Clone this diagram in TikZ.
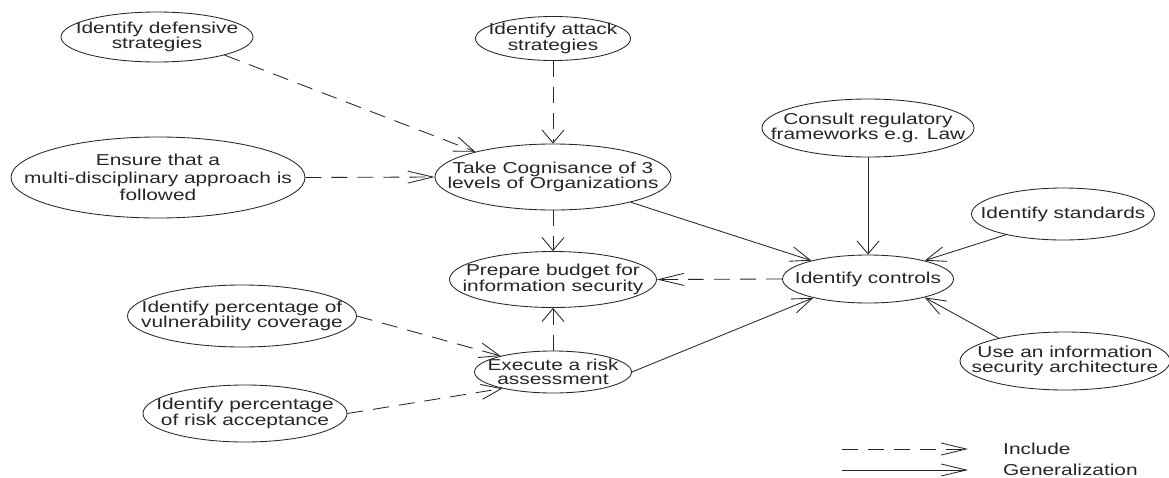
\documentclass[tikz,border=0pt]{standalone}
\usepackage{fontspec}
\setmainfont{Liberation Sans}[FakeStretch=1.32]
\usetikzlibrary{shapes.geometric,arrows.meta}
\definecolor{ink}{HTML}{262626}
\begin{document}
\begin{tikzpicture}[x=1pt,y=-1pt,
 uc/.style 2 args={ellipse, draw=ink, line width=0.85pt, minimum width=#1pt, minimum height=#2pt, inner sep=0pt},
 lbl/.style={align=center, font=\fontsize{15.8}{14.5}\selectfont, text=ink, inner sep=0pt},
 inc/.style={draw=ink, line width=0.85pt, dash pattern=on 16pt off 10pt},
 gen/.style={draw=ink, line width=0.85pt},
 ha/.style={-{Straight Barb[length=25pt,width=12pt]}},
 va/.style={-{Straight Barb[length=13pt,width=22pt]}},
 da/.style={-{Straight Barb[length=20pt,width=15pt]}},
]
\fill[white] (0,0) rectangle (1169,477);
\useasboundingbox (0,0) rectangle (1169,477);

% use cases
\node[uc={192}{50}] (def) at (157,37) {};
\node[lbl] (deft) at (157,37) {Identify defensive\\strategies};
\node[uc={155}{44}] (att) at (553,38.5) {};
\node[lbl] (attt) at (553,38.5) {Identify attack\\strategies};
\node[uc={294}{81}] (ens) at (158,177.5) {};
\node[lbl, font=\fontsize{15.8}{17.5}\selectfont] (enst) at (158,177.5) {Ensure that a\\multi-disciplinary approach is\\followed};
\node[uc={236}{66}] (cog) at (553,177) {};
\node[lbl] (cogt) at (553,177) {Take Cognisance of 3\\levels of Organizations};
\node[uc={212}{58}] (cons) at (868,128) {};
\node[lbl] (const) at (868,128) {Consult regulatory\\frameworks e.g. Law};
\node[uc={183}{52}] (std) at (1063,214) {};
\node[lbl] (stdt) at (1063,214) {Identify standards};
\node[uc={171}{48}] (ctrl) at (868,279) {};
\node[lbl] (ctrlt) at (868,279) {Identify controls};
\node[uc={207}{56}] (prep) at (553,279.5) {};
\node[lbl] (prept) at (553,279.5) {Prepare budget for\\information security};
\node[uc={157}{42}] (exec) at (553,372) {};
\node[lbl] (exect) at (553,372) {Execute a risk\\assessment};
\node[uc={229}{62}] (vul) at (242,316) {};
\node[lbl] (vult) at (242,316) {Identify percentage of\\vulnerability coverage};
\node[uc={204}{57}] (risk) at (245,413.5) {};
\node[lbl] (riskt) at (245,413.5) {Identify percentage\\of risk acceptance};
\node[uc={210}{58}] (arch) at (1065,361) {};
\node[lbl] (archt) at (1065,361) {Use an information\\security architecture};

% connectors
\draw[inc,da] (def.345) -- (cog.162);
\draw[inc,va] (att.south) -- (cog.north);
\draw[inc,ha] (ens.east) -- (cog.west);
\draw[inc,va] (cog.south) -- (prep.north);
\draw[gen,da] (cog.342) -- (ctrl.162);
\draw[gen,va] (cons.south) -- (ctrl.north);
\draw[gen,da] (std.200) -- (ctrl.18);
\draw[gen,da] (arch.161) -- (ctrl.342);
\draw[gen,da] (exec.east) -- (ctrl.199);
\draw[inc,ha] (ctrl.west) -- (prep.east);
\draw[inc,va] (exec.north) -- (prep.south);
\draw[inc,da] (vul.east) -- (exec.163);
\draw[inc,da] (risk.east) -- (exec.198);

% legend
\coordinate (lia) at (842,449);
\coordinate (lib) at (968,449);
\coordinate (lga) at (842,470);
\coordinate (lgb) at (968,470);
\draw[inc,ha] (lia) -- (lib);
\draw[gen,ha] (lga) -- (lgb);
\node[lbl, anchor=west] (linc) at (1003,449) {Include};
\node[lbl, anchor=west] (lgen) at (1003,470) {Generalization};
\end{tikzpicture}
\end{document}
